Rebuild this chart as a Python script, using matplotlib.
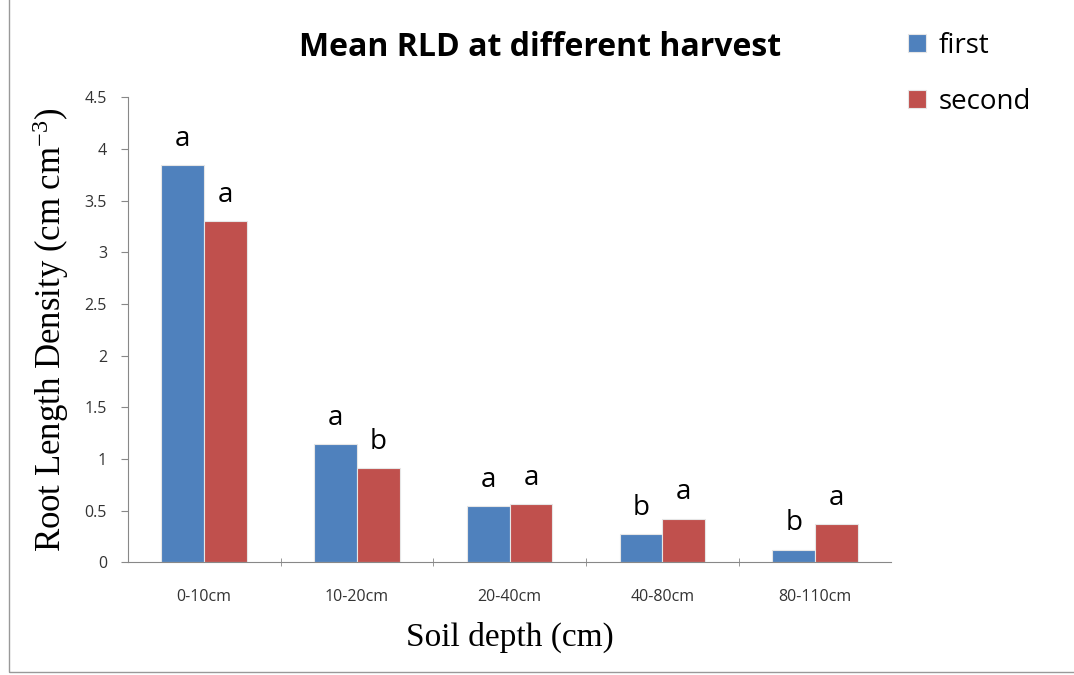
import matplotlib.pyplot as plt
import numpy as np
from matplotlib.patches import Rectangle

depths = ['0-10cm', '10-20cm', '20-40cm', '40-80cm', '80-110cm']
first = [3.84, 1.14, 0.54, 0.27, 0.12]
second = [3.30, 0.91, 0.56, 0.42, 0.37]
first_letters = ['a', 'a', 'a', 'b', 'b']
second_letters = ['a', 'b', 'a', 'a', 'a']
y_ticks = [0, 0.5, 1, 1.5, 2, 2.5, 3, 3.5, 4, 4.5]

blue = '#4F81BD'
red = '#C0504D'
sans = 'Open Sans'

plt.rcParams['mathtext.fontset'] = 'custom'
plt.rcParams['mathtext.rm'] = 'Liberation Serif'
plt.rcParams['mathtext.it'] = 'Liberation Serif:italic'

fig = plt.figure(figsize=(10.74, 6.75), dpi=100)
ax = fig.add_axes([0.119, 0.167, 0.711, 0.689])

x = np.arange(len(depths))
w = 0.28
b1 = ax.bar(x - w / 2, first, w, color=blue, edgecolor='#e6e6e6', linewidth=0.8, label='first')
b2 = ax.bar(x + w / 2, second, w, color=red, edgecolor='#e6e6e6', linewidth=0.8, label='second')

# significance letters above bars
for bars, letters in [(b1, first_letters), (b2, second_letters)]:
    for rect, txt in zip(bars, letters):
        ax.annotate(txt, (rect.get_x() + rect.get_width() / 2, rect.get_height()),
                    xytext=(0, 9), textcoords='offset points', ha='center', va='bottom',
                    fontsize=20, family=sans)

ax.set_xlim(-0.5, len(depths) - 0.5)
ax.set_ylim(0, 4.5)
ax.set_yticks(y_ticks)
ax.set_yticklabels([f'{v:g}' for v in y_ticks], family=sans, fontsize=11.5, color='#333333')
ax.set_xticks(x)
ax.set_xticklabels(depths, family=sans, fontsize=11.5, color='#333333')
ax.set_xticks(np.arange(0.5, len(depths) - 0.5, 1), minor=True)
ax.tick_params(axis='x', which='major', length=0, pad=19)
ax.tick_params(axis='x', which='minor', length=6, direction='inout', color='#888888')
ax.tick_params(axis='y', length=5, color='#888888', pad=10)

for s in ['top', 'right']:
    ax.spines[s].set_visible(False)
for s in ['left', 'bottom']:
    ax.spines[s].set_color('#888888')

ax.set_ylabel('Root Length Density (cm cm$^{\\mathrm{-3}}$)', family='Liberation Serif',
              fontsize=25, labelpad=10)
ax.set_xlabel('Soil depth (cm)', family='Liberation Serif', fontsize=24, labelpad=12)

fig.text(0.503, 0.93, 'Mean RLD at different harvest', ha='center', va='center',
         fontsize=23, fontweight='bold', family=sans)

fig.legend(handles=[b1, b2], loc='upper left', bbox_to_anchor=(0.822, 0.99),
           frameon=False, prop={'family': sans, 'size': 20}, handlelength=0.65,
           handleheight=0.65, handletextpad=0.45, labelspacing=1.0)

# chart area border
fig.patches.append(Rectangle((0.008, 0.004), 1.2, 1.2, transform=fig.transFigure,
                             fill=False, edgecolor='#999999', linewidth=1))

fig.savefig('out.png', dpi=100)
